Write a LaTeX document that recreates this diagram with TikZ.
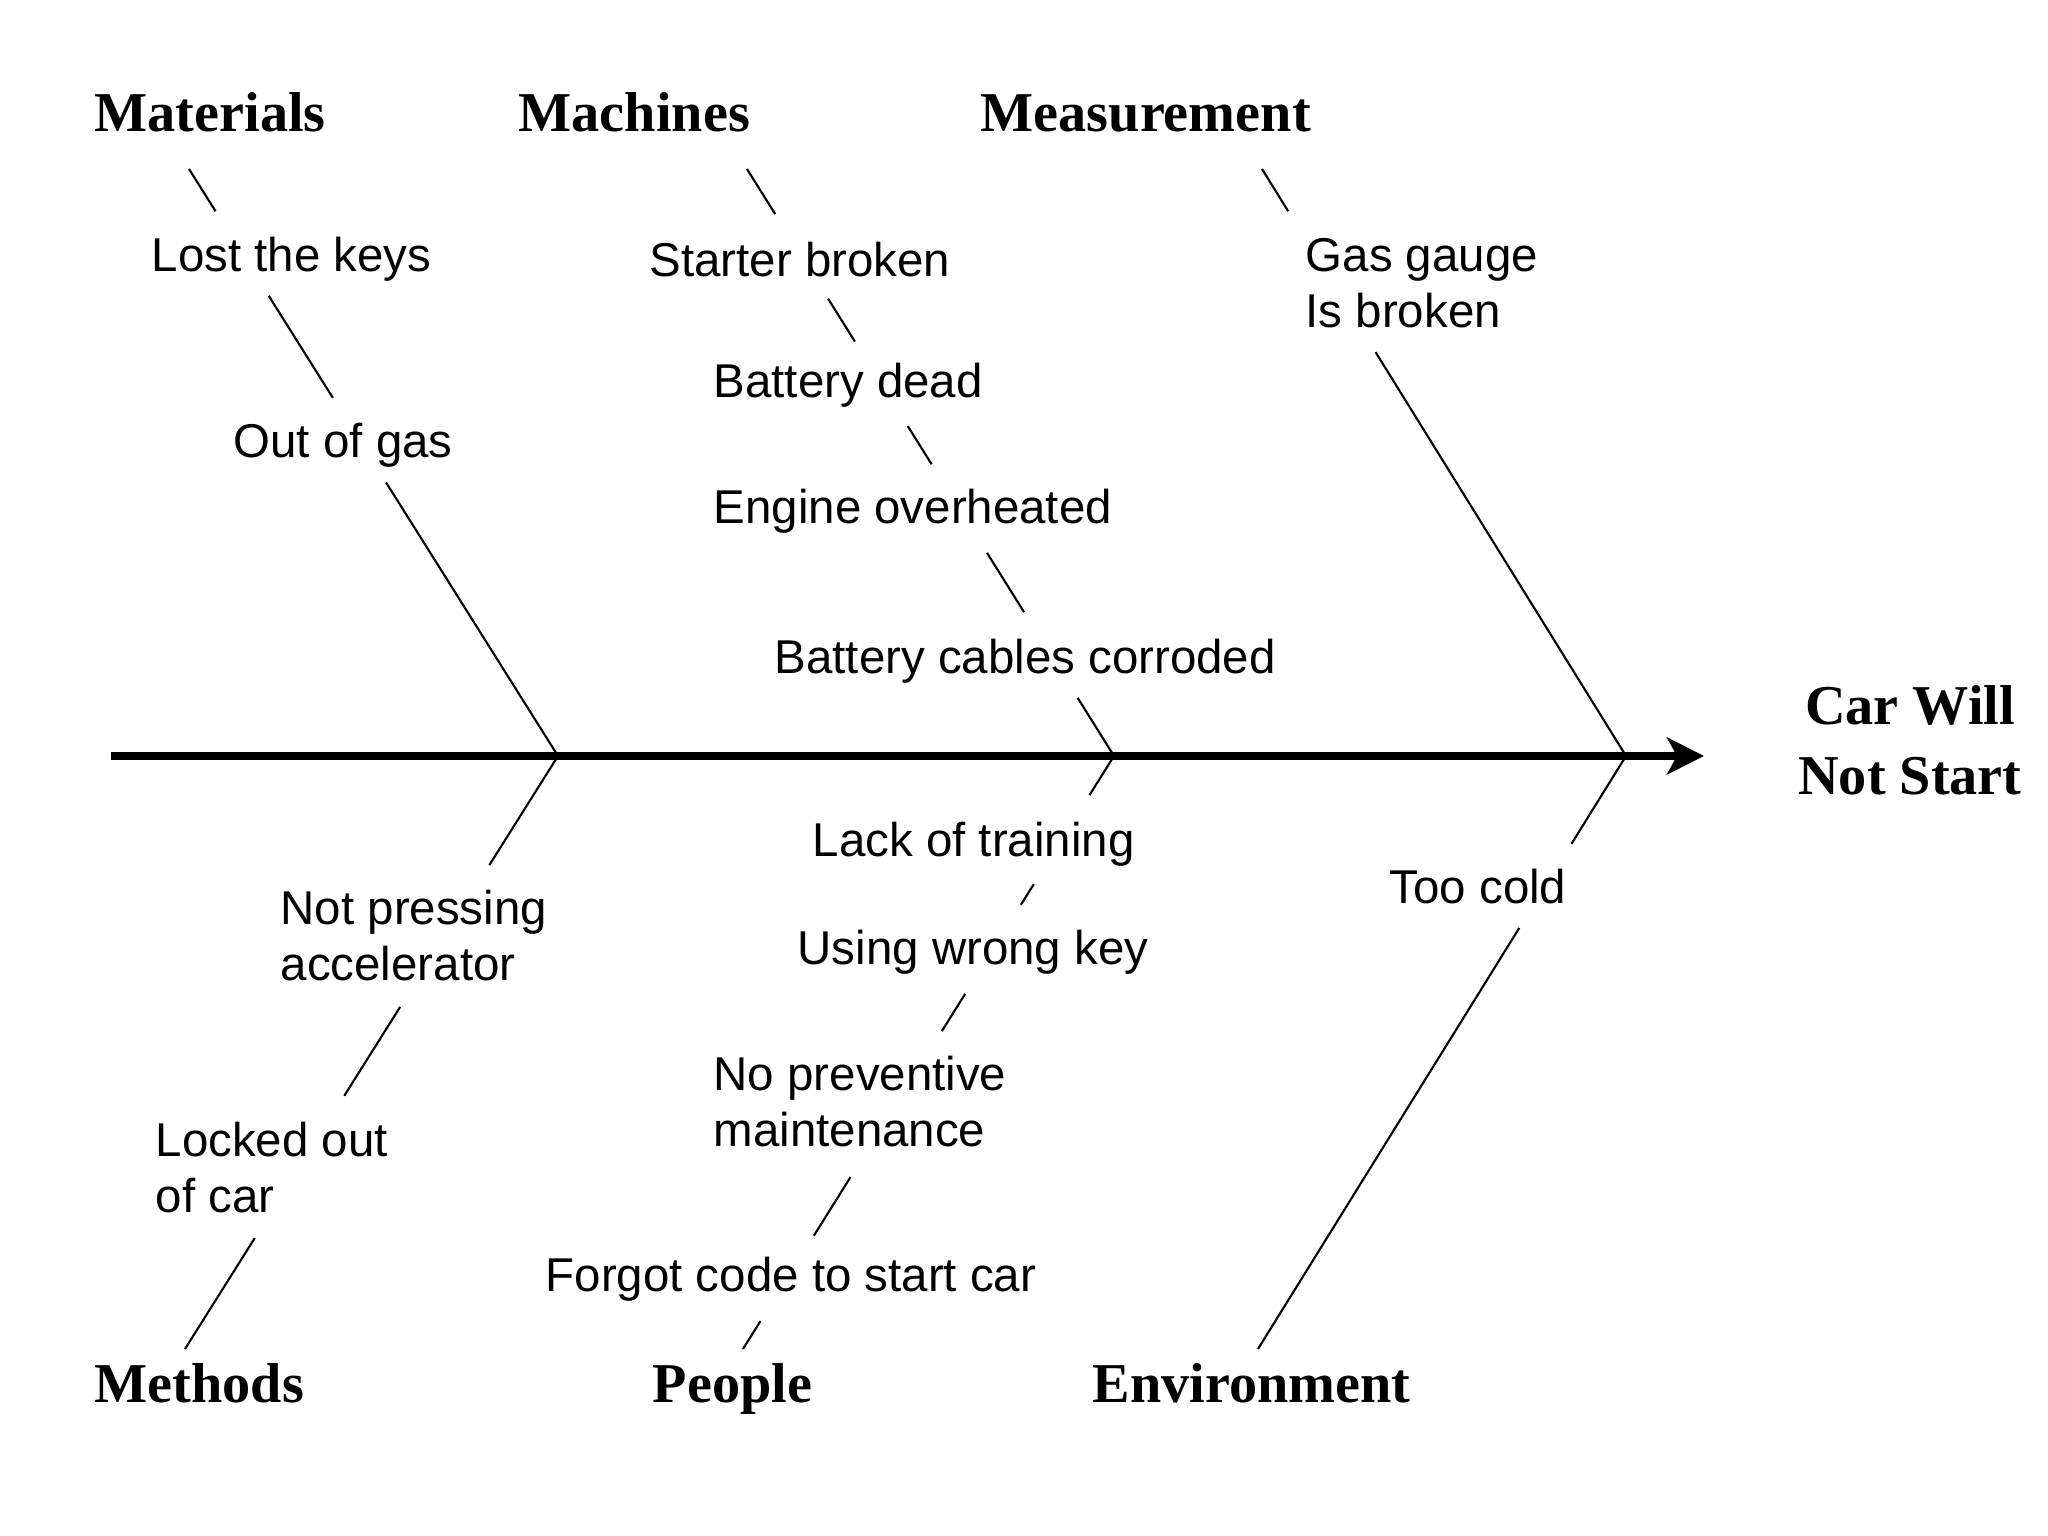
\documentclass[tikz,border=0pt]{standalone}
\usepackage{fontspec}
\setmainfont{Liberation Serif}
\setsansfont{Liberation Sans}
\usetikzlibrary{calc,arrows.meta}

\begin{document}
\begin{tikzpicture}[
    cause/.style={anchor=base west,inner sep=0pt,align=left,font=\sffamily\fontsize{13.5}{16}\selectfont},
    cat/.style={anchor=base west,inner sep=0pt,font=\bfseries\fontsize{16}{20}\selectfont},
    bone/.style={line width=0.6pt}]
  \useasboundingbox (0,0) rectangle (20.48,15.36);

  % spine
  \coordinate (tail) at (1.11,7.80);
  \coordinate (head) at (17.04,7.80);
  \coordinate (j1) at (5.58,7.80);
  \coordinate (j2) at (11.14,7.80);
  \coordinate (j3) at (16.26,7.80);
  \draw[line width=2.5pt,-{Stealth[length=3.7mm,width=3.7mm,inset=1mm]}] (tail) -- (head);
  \node[cat,anchor=base,align=center] (effect) at (19.10,7.41) {Car Will\\Not Start};

  % categories
  \node[cat] (materials) at (0.94,14.04) {Materials};
  \node[cat] (machines) at (5.18,14.04) {Machines};
  \node[cat] (measurement) at (9.80,14.04) {Measurement};
  \node[cat] (methods) at (0.94,1.33) {Methods};
  \node[cat] (people) at (6.52,1.33) {People};
  \node[cat] (environment) at (10.92,1.33) {Environment};

  % bone ends
  \coordinate (u1) at (1.89,13.67);
  \coordinate (u2) at (7.47,13.67);
  \coordinate (u3) at (12.62,13.67);
  \coordinate (l1) at (1.85,1.87);
  \coordinate (l2) at (7.43,1.87);
  \coordinate (l3) at (12.58,1.87);

  % causes (two-line ones sit on their last line)
  \node[cause] (keys) at (1.51,12.64) {Lost the keys};
  \node[cause] (gas) at (2.33,10.78) {Out of gas};
  \node[cause] (starter) at (6.49,12.59) {Starter broken};
  \node[cause] (battery) at (7.13,11.38) {Battery dead};
  \node[cause] (engine) at (7.13,10.12) {Engine overheated};
  \node[cause] (cables) at (7.74,8.62) {Battery cables corroded};
  \node[cause] (gauge) at (13.05,12.08) {Gas gauge\\Is broken};
  \node[cause] (pedal) at (2.80,5.55) {Not pressing\\accelerator};
  \node[cause] (locked) at (1.55,3.23) {Locked out\\of car};
  \node[cause] (training) at (8.12,6.79) {Lack of training};
  \node[cause] (wrongkey) at (7.97,5.71) {Using wrong key};
  \node[cause] (maint) at (7.13,3.89) {No preventive\\maintenance};
  \node[cause] (code) at (5.45,2.44) {Forgot code to start car};
  \node[cause] (cold) at (13.89,6.32) {Too cold};

  % bones, broken where the causes sit
  \foreach \a/\b in {0/0.072,0.216/0.390,0.534/1}
    \draw[bone] ($(u1)!\a!(j1)$) -- ($(u1)!\b!(j1)$);
  \foreach \a/\b in {0/0.077,0.221/0.294,0.438/0.503,0.654/0.755,0.901/1}
    \draw[bone] ($(u2)!\a!(j2)$) -- ($(u2)!\b!(j2)$);
  \foreach \a/\b in {0/0.072,0.312/1}
    \draw[bone] ($(u3)!\a!(j3)$) -- ($(u3)!\b!(j3)$);
  \foreach \a/\b in {0/0.184,0.423/0.573,0.813/1}
    \draw[bone] ($(j1)!\a!(l1)$) -- ($(j1)!\b!(l1)$);
  \foreach \a/\b in {0/0.066,0.216/0.251,0.401/0.464,0.710/0.809,0.953/1}
    \draw[bone] ($(j2)!\a!(l2)$) -- ($(j2)!\b!(l2)$);
  \foreach \a/\b in {0/0.148,0.290/1}
    \draw[bone] ($(j3)!\a!(l3)$) -- ($(j3)!\b!(l3)$);
\end{tikzpicture}
\end{document}
